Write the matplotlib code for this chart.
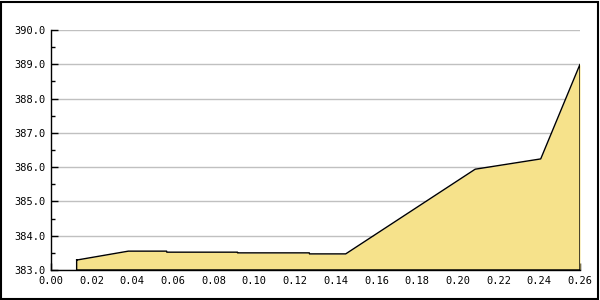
import matplotlib
matplotlib.use('Agg')
import matplotlib.pyplot as plt
from matplotlib.patches import Rectangle
from matplotlib.ticker import MultipleLocator, FormatStrFormatter

# values
x_vals = [0.0127, 0.0381, 0.0569, 0.0570, 0.0917, 0.0918, 0.1270, 0.1271, 0.1449, 0.2085, 0.2407, 0.2600]
y_vals = [383.29, 383.55, 383.55, 383.52, 383.52, 383.50, 383.50, 383.47, 383.47, 385.94, 386.24, 389.00]

fig = plt.figure(figsize=(6, 3), dpi=100)
ax = fig.add_axes([50.8 / 600, 30 / 300, (580 - 50.8) / 600, 240 / 300])

ax.fill_between(x_vals, y_vals, 383.0, color='#F6E28B', linewidth=0, zorder=2)
ax.plot(x_vals + [x_vals[-1], x_vals[0], x_vals[0]],
        y_vals + [383.0, 383.0, y_vals[0]],
        color='black', linewidth=1, zorder=3)

ax.set_xlim(0, 0.26)
ax.set_ylim(383, 390)
ax.xaxis.set_major_locator(MultipleLocator(0.02))
ax.xaxis.set_major_formatter(FormatStrFormatter('%.2f'))
ax.yaxis.set_major_locator(MultipleLocator(1.0))
ax.yaxis.set_minor_locator(MultipleLocator(0.5))
ax.yaxis.set_major_formatter(FormatStrFormatter('%.1f'))

ax.grid(axis='y', which='major', color='#C0C0C0', linewidth=1, zorder=1)
ax.set_axisbelow(True)
for s in ['top', 'right']:
    ax.spines[s].set_visible(False)
for s in ['left', 'bottom']:
    ax.spines[s].set_linewidth(1)
    ax.spines[s].set_zorder(4)

ax.tick_params(axis='both', which='major', direction='in', length=5, width=1,
               labelsize=7.5, pad=4, colors='black')
ax.tick_params(axis='y', which='minor', direction='in', length=3, width=1)
for lbl in ax.get_xticklabels() + ax.get_yticklabels():
    lbl.set_family('DejaVu Sans Mono')

fig.patches.append(Rectangle((0.5 / 600, 1.5 / 300), 597 / 600, 297 / 300,
                             transform=fig.transFigure, fill=False,
                             edgecolor='black', linewidth=1.5))

fig.savefig('out.png', dpi=100)
